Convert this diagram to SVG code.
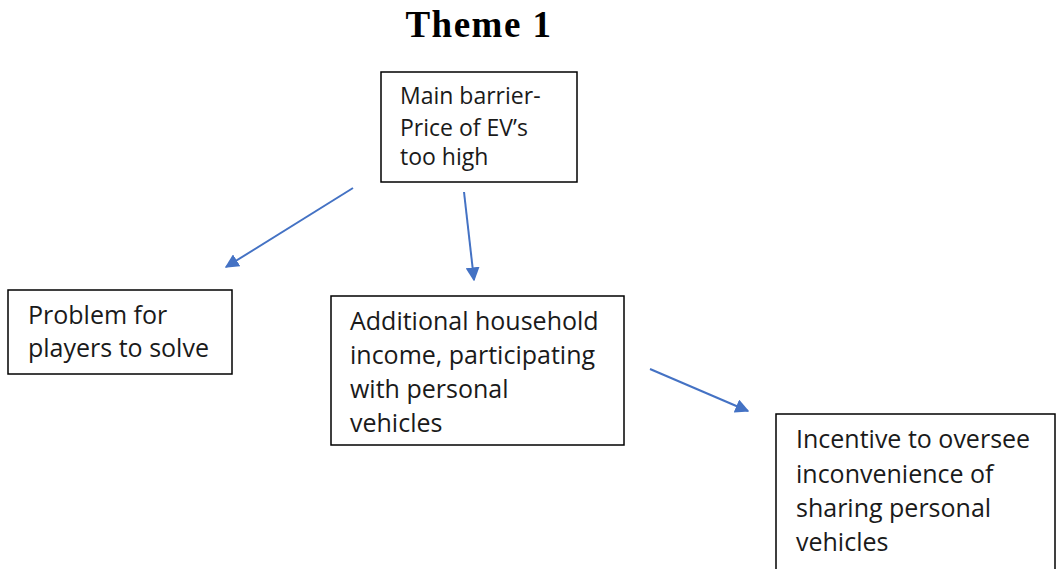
<svg xmlns="http://www.w3.org/2000/svg" width="1056" height="569" viewBox="0 0 1056 569">
  <style>
    .box { fill: #ffffff; stroke: #000000; stroke-width: 1.5; }
    .lbl { font-family: "Open Sans", "Liberation Sans", sans-serif; font-size: 25px; fill: #1a1a1a; }
    .small { font-size: 23px; }
    .title { font-family: "Liberation Serif", serif; font-weight: bold; font-size: 37px; letter-spacing: 1.5px; fill: #000000; }
    .arrow { stroke: #4472C4; stroke-width: 2; fill: none; marker-end: url(#head); }
  </style>
  <defs>
    <marker id="head" viewBox="0 0 10 10" refX="9" refY="5" markerWidth="7" markerHeight="7" orient="auto" markerUnits="strokeWidth">
      <path d="M0,0 L10,5 L0,10 z" fill="#4472C4"/>
    </marker>
  </defs>

  <rect width="1056" height="569" fill="#ffffff"/>

  <text class="title" x="479" y="37" text-anchor="middle">Theme 1</text>

  <g id="connectors">
    <line class="arrow" x1="353" y1="188" x2="226" y2="267"/>
    <line class="arrow" x1="464" y1="192" x2="474" y2="280"/>
    <line class="arrow" x1="650" y1="369" x2="748" y2="411"/>
  </g>

  <g id="node-main-barrier">
    <rect class="box" x="381" y="72" width="196" height="110"/>
    <text class="lbl small" x="400" y="104">Main barrier-</text>
    <text class="lbl small" x="400" y="136">Price of EV’s</text>
    <text class="lbl small" x="400" y="165">too high</text>
  </g>

  <g id="node-problem">
    <rect class="box" x="8" y="290" width="224" height="84"/>
    <text class="lbl" x="28" y="324">Problem for</text>
    <text class="lbl" x="28" y="357">players to solve</text>
  </g>

  <g id="node-income">
    <rect class="box" x="331" y="296" width="293" height="149"/>
    <text class="lbl" x="350" y="330">Additional household</text>
    <text class="lbl" x="350" y="364">income, participating</text>
    <text class="lbl" x="350" y="398">with personal</text>
    <text class="lbl" x="350" y="432">vehicles</text>
  </g>

  <g id="node-incentive">
    <rect class="box" x="776" y="414" width="279" height="160"/>
    <text class="lbl" x="796" y="448">Incentive to oversee</text>
    <text class="lbl" x="796" y="483">inconvenience of</text>
    <text class="lbl" x="796" y="517">sharing personal</text>
    <text class="lbl" x="796" y="551">vehicles</text>
  </g>
</svg>
